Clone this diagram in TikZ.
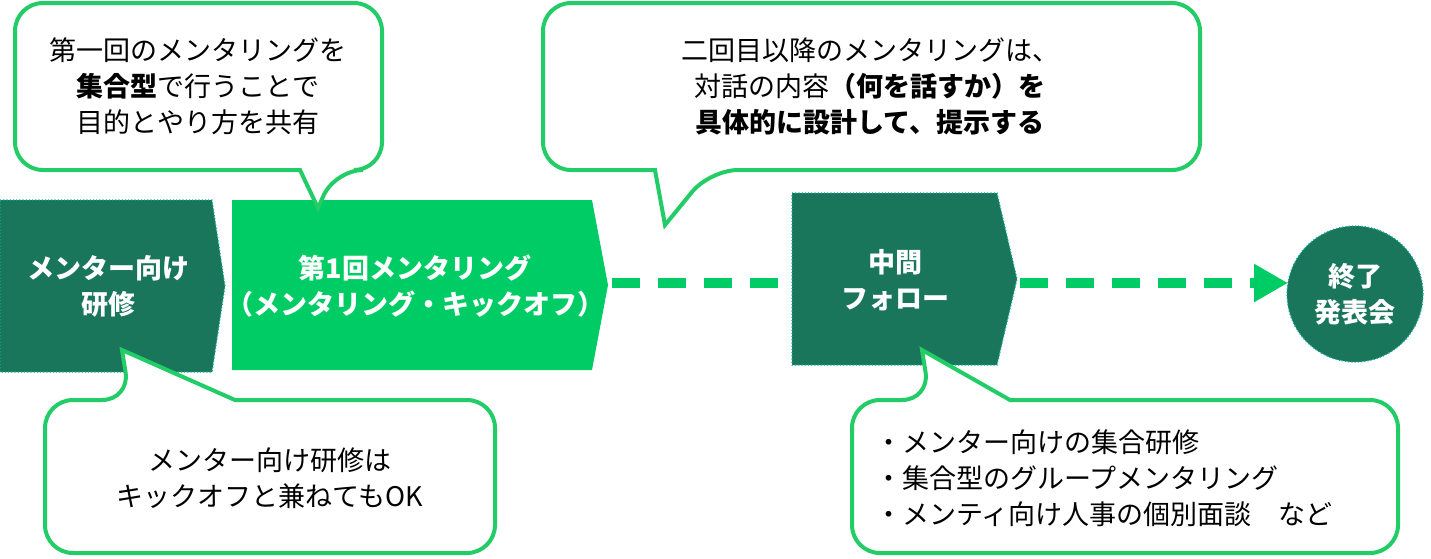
\documentclass[tikz,border=0pt]{standalone}
\usepackage{fontspec}
\setmainfont{Noto Sans CJK JP}
\usetikzlibrary{arrows.meta, positioning}
\definecolor{stepdark}{HTML}{1A765B}
\definecolor{stepbright}{HTML}{00CC66}
\definecolor{callline}{HTML}{22CC66}

\tikzset{
  darkstep/.style={fill=stepdark, draw=stepdark!60!cyan, densely dotted, line width=0.6pt},
  brightstep/.style={fill=stepbright},
  steptext/.style={text=white, font=\fontsize{13.5}{18}\selectfont\bfseries, align=center},
  callbox/.style={draw=callline, fill=white, line width=2pt},
  calltext/.style={font=\fontsize{13.5}{18}\selectfont, align=center},
  flow/.style={stepbright, line width=5pt, dash pattern=on 14pt off 9pt},
}

\begin{document}
\begin{tikzpicture}[x=0.5pt, y=-0.5pt]
  \useasboundingbox (0,0) rectangle (1431,558);

  % steps
  \draw[darkstep] (0,200) -- (212,200) -- (225,286) -- (212,372) -- (0,372) -- cycle;
  \fill[brightstep] (232,200) -- (592,200) -- (608,285) -- (592,370) -- (232,370) -- cycle;
  \draw[darkstep] (792,193) -- (997,193) -- (1017,279) -- (997,365) -- (792,365) -- cycle;
  \node[circle, minimum size=68pt, fill=stepdark, draw=stepdark!60!cyan, densely dotted, line width=0.6pt] (finish) at (1355,294) {};

  \node[steptext] (training) at (108,286) {メンター向け\\研修};
  \node[steptext] (kickoff) at (415,286) {第1回メンタリング\\（メンタリング・キックオフ）};
  \node[steptext] (midway) at (895,280) {中間\\フォロー};
  \node[steptext] at (finish) {終了\\発表会};

  \coordinate (kickend) at (612,283);
  \coordinate (midstart) at (792,283);
  \coordinate (midend) at (1020,283);
  \coordinate (finishin) at (1288,283);
  \draw[flow] (kickend) -- (midstart);
  \draw[flow, -{Triangle[length=17pt, width=18pt]}] (midend) -- (finishin);

  % callouts
  \draw[callbox, rounded corners=14pt] (15,3) -- (382,3) -- (382,170) -- (335,170) [sharp corners] -- (318,208) -- (300,170) [rounded corners=14pt] -- (15,170) -- cycle;
  \node[calltext] (noteone) at (198,86) {第一回のメンタリングを\\\textbf{集合型}で行うことで\\目的とやり方を共有};

  \draw[callbox, rounded corners=14pt] (543,3) -- (1200,3) -- (1200,170) -- (710,170) [sharp corners] -- (665,225) -- (655,170) [rounded corners=14pt] -- (543,170) -- cycle;
  \node[calltext] (notetwo) at (870,86) {二回目以降のメンタリングは、\\対話の内容\textbf{（何を話すか）を}\\\textbf{具体的に設計して、提示する}};

  \draw[callbox, rounded corners=14pt] (45,400) -- (130,400) [sharp corners] -- (122,350) -- (235,400) [rounded corners=14pt] -- (495,400) -- (495,553) -- (45,553) -- cycle;
  \node[calltext] (notethree) at (270,478) {メンター向け研修は\\キックオフと兼ねてもOK};

  \draw[callbox, rounded corners=14pt] (852,400) -- (930,400) [sharp corners] -- (922,350) -- (1010,400) [rounded corners=14pt] -- (1398,400) -- (1398,553) -- (852,553) -- cycle;
  \node[calltext, align=left, anchor=west] (notefour) at (868,478) {・メンター向けの集合研修\\・集合型のグループメンタリング\\・メンティ向け人事の個別面談　など};
\end{tikzpicture}
\end{document}
